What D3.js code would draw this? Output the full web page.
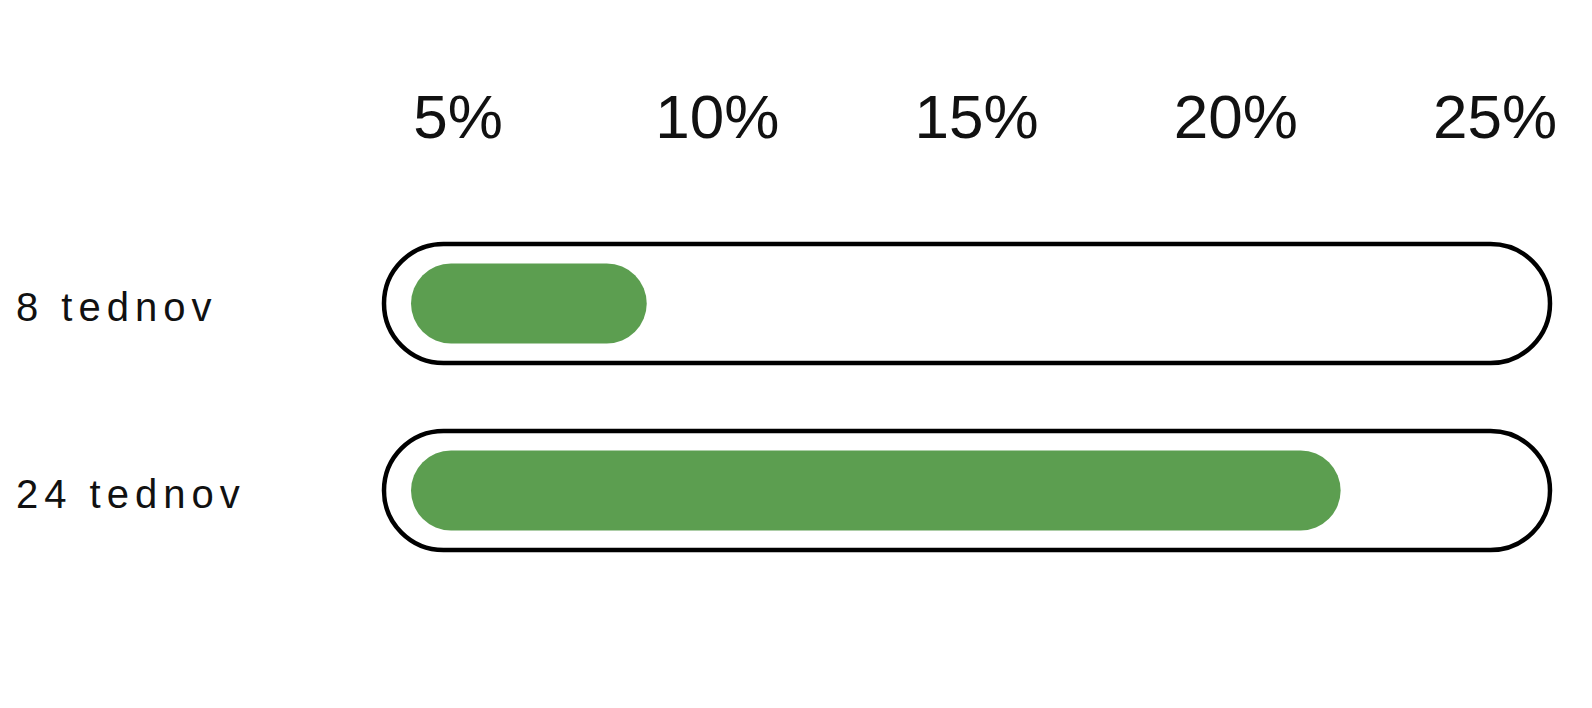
<!DOCTYPE html>
<html>
<head>
<meta charset="utf-8">
<script src="https://cdn.jsdelivr.net/npm/d3@7"></script>
<style>
  html, body { margin: 0; padding: 0; background: #ffffff; }
  svg { display: block; }
</style>
</head>
<body>
<svg id="chart" width="1592" height="708"></svg>
<script>
// ---- data ----
const categories = ["8 tednov", "24 tednov"];
const values = [5.3, 20.9];            // percent
const tickValues = [5, 10, 15, 20, 25];
const tickLabels = ["5%", "10%", "15%", "20%", "25%"];
const maxValue = 25;

// ---- layout ----
const svg = d3.select("#chart");

const trackLeft = 384, trackRight = 1550;
const pad = 27;
const trackH = 119;
const barH = 80;

// scale for bars
const x = d3.scaleLinear()
  .domain([0, maxValue])
  .range([trackLeft + pad, trackRight - pad]);

// scale for header tick labels
const xTick = d3.scaleLinear()
  .domain([5, 25])
  .range([458, 1495]);

const y = d3.scalePoint()
  .domain(categories)
  .range([303.5, 490.5]);

// header ticks
svg.append("g")
  .selectAll("text")
  .data(tickValues)
  .join("text")
  .attr("x", d => xTick(d))
  .attr("y", 138)
  .attr("text-anchor", "middle")
  .attr("font-family", "'Liberation Sans', Arial, sans-serif")
  .attr("font-size", 62)
  .attr("fill", "#111")
  .text((d, i) => tickLabels[i]);

const rows = svg.append("g")
  .selectAll("g")
  .data(categories.map((c, i) => ({ c, v: values[i] })))
  .join("g")
  .attr("transform", d => `translate(0,${y(d.c)})`);

// outer tracks
rows.append("rect")
  .attr("x", trackLeft)
  .attr("y", -trackH / 2)
  .attr("width", trackRight - trackLeft)
  .attr("height", trackH)
  .attr("rx", trackH / 2)
  .attr("fill", "#fff")
  .attr("stroke", "#000")
  .attr("stroke-width", 4.5);

// green bars
rows.append("rect")
  .attr("x", x(0))
  .attr("y", -barH / 2)
  .attr("width", d => x(d.v) - x(0))
  .attr("height", barH)
  .attr("rx", barH / 2)
  .attr("fill", "#5c9e50");

// category labels
rows.append("text")
  .attr("x", 16)
  .attr("y", 17.5)
  .attr("font-family", "'Liberation Sans', Arial, sans-serif")
  .attr("font-size", 40)
  .attr("letter-spacing", 6)
  .attr("fill", "#111")
  .text(d => d.c);
</script>
</body>
</html>
